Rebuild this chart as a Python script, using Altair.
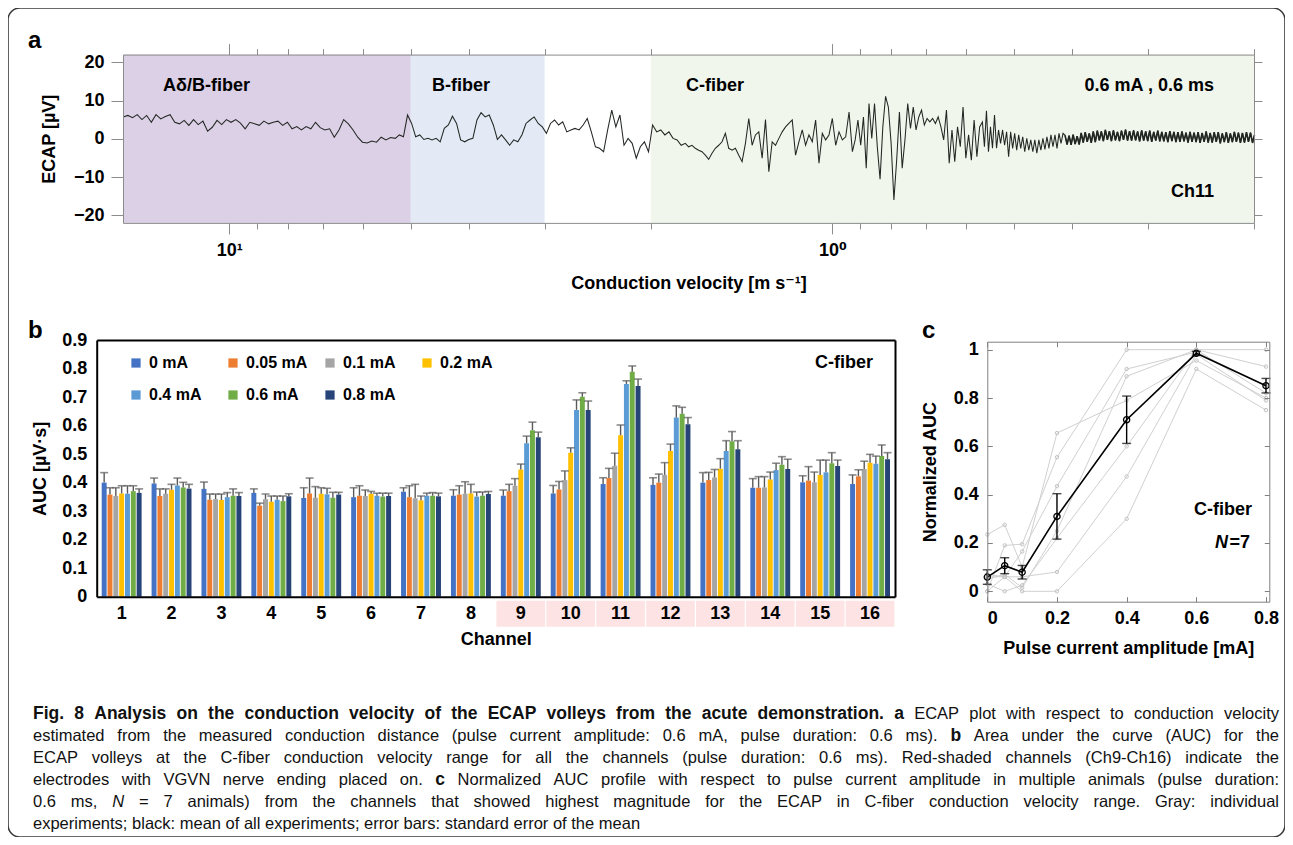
import altair as alt
import numpy as np
import pandas as pd

FONT = "Liberation Sans, DejaVu Sans, Arial, sans-serif"
W, H = 1277, 829
AXG = "#8c8c8c"
CG = "#808080"

# ---------------- Panel a: ECAP trace (Ch11, 0.6 mA, 0.6 ms) ----------------
# conduction velocity [m/s] at the edges of the read segments
trace_edges_v = [14.99, 5.305, 1.7535, 0.9265, 0.5640, 0.1996]
trace_seg1 = [5.7, 6.1, 5.5, 6.3, 5.0, 6.1, 4.3, 6.3, 5.2, 5.8, 6.3, 4.3, 3.9, 4.8, 3.5, 5.0, 3.7, 4.6,
              2.0, 3.0, 4.8, 3.7, 5.0, 4.3, 5.0, 4.1, 2.6, 4.3, 3.9, 3.5, 4.6, 3.9, 4.3, 4.6, 3.5, 4.3,
              2.6, 3.2, 2.3, 3.2, 2.6, 4.3, 2.9, 2.3, 2.6, 0.4, 2.3, 5.0, 3.9, 2.3, 0.4, -0.9, -1.1,
              -0.6, -0.9, 0.4, -0.3, 0.3]
trace_seg2 = [0.1, 1.0, 0.5, 6.2, 4.0, 0.5, 1.0, -0.2, 0.1, -0.3, 0.1, -0.8, 2.7, 3.6, 5.9, 4.0, -0.3,
              -0.8, -0.2, 0.1, 4.9, 6.8, 5.7, 6.2, 3.6, -0.2, 1.0, -0.3, -1.7, -0.3, -0.8, 1.0, 4.0,
              4.9, 5.7, 4.0, 3.1, 1.4, 4.0, 4.9, 3.6, 4.4, 1.8, 2.3, 2.7, 2.3, 3.6, 5.3, 1.8, -2.1,
              -2.5, -3.4, 2.3, 7.5, 3.1, 6.2, -1.7, 0.1, -1.2, -5.1, -2.1, -0.8, -3.4, 3.6, 1.8, 2.3,
              1.0, 1.8, 0.1, -0.3, -1.7]
trace_seg3a = [-1.2, -2.1, -1.7, -2.5, -3.0, -3.4, -4.3, -5.4, -3.8, -2.5,
               -1.7, -0.8, 1.4, -2.5, -3.0, -2.5, -4.3, -6.0, -1.2, 5.3,
               -1.7, 1.0, 1.8, -5.1, 5.0, -8.6, -0.8, -1.7, 0.1, 1.8,
               3.1, 4.0, 4.9, -4.3, -0.8, 2.3, -1.7, 1.0, -0.8, 4.9,
               -6.4, 1.4, -0.3, 1.0, 5.3, -1.7, 1.8, -0.3, 0.5, 7.0]
trace_seg3b = [-3.4, -0.3, 4.9, -1.7, 5.7, -7.7, 9.2, 0.1, 9.2, -2.1,
               -10.6, 3.1, 11.1, 8.3, -1.2, -16.0, -5.6, 7.0, -7.7, -0.3,
               9.2, 2.7, 8.3, 2.3, 5.7, 7.5, 3.6, 5.3, 4.4, 5.3,
               4.0, 5.7, 3.1, -0.3, 7.5, -6.4, 2.3, -6.0, 3.1, -2.1,
               8.3, -5.1, 1.0, -5.6, 4.9, -4.7, 3.1]
trace_seg4 = [4.4, -2.1, 7.3, -3.4, 3.1, -2.5, 6.2, -2.5, 2.3, -1.2, 2.3, -1.7, 1.8, -4.7, 1.8, -2.5,
              1.4, -3.0, 1.0, -2.5, 0.5, -3.4, 0.1, -3.0, -0.3, -3.4, -0.3, -3.8, -0.3, -3.0, 0.1,
              -2.8, 0.5, -2.5, 1.0, -2.1, 1.0, -2.5, 1.4, -1.2, 1.4,
              0.9, -1.5, 0.8, -1.6, 1.1, -1.4, 0.7, -1.5,
              1.5, -1.0, 1.7, -0.8, 1.4, -1.1, 1.9, -0.9,
              2.1, -0.4, 1.9, -0.6, 2.3, -0.3, 2.0, -0.6,
              2.2, -0.4, 1.8, -0.6, 2.1, -0.3, 2.4, -0.5,
              2.0, -0.5, 2.2, -0.4, 1.9, -0.7, 2.2, -0.5,
              1.9, -0.6, 2.1, -0.8, 1.8, -0.5, 2.1, -0.7,
              1.8, -0.7, 1.7, -0.9, 2.0, -0.6, 1.8, -0.9,
              1.7, -0.8, 1.9, -0.7, 1.6, -1.0, 1.8, -0.8,
              1.6, -0.9, 1.7, -1.1, 1.5, -0.8, 1.9, -1.0,
              1.5, -1.0, 1.7, -0.8, 1.7, -1.2, 1.4, -0.9,
              1.7, -1.1, 1.4, -0.9, 1.8, -0.8, 1.6, -1.1,
              1.5, -1.0, 1.7, -0.8, 1.6, -1.1, 1.0]
n_band = 95  # trailing samples forming the dense noise band

segments = [trace_seg1, trace_seg2, trace_seg3a, trace_seg3b, trace_seg4]
vel, ecap = [], []
for i, seg in enumerate(segments):
    last = i == len(segments) - 1
    vel.extend(np.geomspace(trace_edges_v[i], trace_edges_v[i + 1], len(seg), endpoint=last))
    ecap.extend(seg)
trace_df = pd.DataFrame({"v": vel, "ecap": ecap})
band_df = trace_df.iloc[-n_band:]

fiber_names = ["Aδ/B-fiber", "B-fiber", "C-fiber"]
fiber_fast = [14.99, 5.0, 2.0]
fiber_slow = [5.0, 3.0, 0.1996]
fiber_fill = ["#dcd0e6", "#e3e9f5", "#f0f6ec"]
fiber_df = pd.DataFrame({"name": fiber_names, "fast": fiber_fast, "slow": fiber_slow})

# ---------------- Panel b: AUC per channel ----------------
channels = [str(i) for i in range(1, 17)]
amps = ["0 mA", "0.05 mA", "0.1 mA", "0.2 mA", "0.4 mA", "0.6 mA", "0.8 mA"]
amp_colors = ["#4472c4", "#ed7d31", "#a5a5a5", "#ffc000", "#5b9bd5", "#70ad47", "#264478"]
auc_0 = [0.400, 0.397, 0.378, 0.364, 0.346, 0.349, 0.368, 0.354, 0.354, 0.362, 0.395, 0.392, 0.400, 0.382, 0.401, 0.395]
auc_005 = [0.358, 0.353, 0.340, 0.319, 0.362, 0.354, 0.349, 0.358, 0.370, 0.376, 0.416, 0.400, 0.409, 0.382, 0.407, 0.422]
auc_01 = [0.353, 0.361, 0.342, 0.342, 0.347, 0.353, 0.345, 0.361, 0.389, 0.409, 0.459, 0.427, 0.418, 0.383, 0.401, 0.448]
auc_02 = [0.362, 0.375, 0.339, 0.333, 0.361, 0.361, 0.338, 0.362, 0.446, 0.505, 0.566, 0.511, 0.449, 0.411, 0.427, 0.470]
auc_04 = [0.361, 0.390, 0.349, 0.340, 0.359, 0.354, 0.354, 0.351, 0.538, 0.655, 0.746, 0.628, 0.511, 0.444, 0.436, 0.466]
auc_06 = [0.370, 0.383, 0.354, 0.335, 0.347, 0.351, 0.354, 0.354, 0.584, 0.701, 0.789, 0.641, 0.545, 0.463, 0.468, 0.493]
auc_08 = [0.364, 0.379, 0.353, 0.352, 0.358, 0.353, 0.352, 0.360, 0.559, 0.655, 0.739, 0.605, 0.517, 0.448, 0.458, 0.482]
sem_0 = [0.035, 0.019, 0.024, 0.014, 0.036, 0.033, 0.014, 0.021, 0.020, 0.028, 0.022, 0.025, 0.035, 0.032, 0.023, 0.032]
sem_005 = [0.024, 0.025, 0.020, 0.009, 0.054, 0.035, 0.040, 0.031, 0.024, 0.028, 0.034, 0.030, 0.027, 0.039, 0.049, 0.023]
sem_01 = [0.029, 0.017, 0.018, 0.018, 0.039, 0.021, 0.049, 0.042, 0.025, 0.032, 0.044, 0.043, 0.028, 0.038, 0.036, 0.027]
sem_02 = [0.027, 0.019, 0.021, 0.020, 0.021, 0.008, 0.015, 0.032, 0.019, 0.017, 0.036, 0.024, 0.035, 0.026, 0.052, 0.029]
sem_04 = [0.028, 0.026, 0.016, 0.013, 0.021, 0.009, 0.009, 0.016, 0.025, 0.035, 0.011, 0.041, 0.036, 0.024, 0.043, 0.027]
sem_06 = [0.019, 0.018, 0.024, 0.018, 0.019, 0.012, 0.011, 0.013, 0.028, 0.014, 0.020, 0.023, 0.034, 0.028, 0.037, 0.039]
sem_08 = [0.014, 0.015, 0.012, 0.009, 0.008, 0.010, 0.011, 0.009, 0.018, 0.031, 0.024, 0.023, 0.030, 0.034, 0.021, 0.023]
red_channels = ["9", "10", "11", "12", "13", "14", "15", "16"]

auc_all = [auc_0, auc_005, auc_01, auc_02, auc_04, auc_06, auc_08]
sem_all = [sem_0, sem_005, sem_01, sem_02, sem_04, sem_06, sem_08]
rows = []
for a, av, sv in zip(amps, auc_all, sem_all):
    for c, v, s in zip(channels, av, sv):
        rows.append({"channel": c, "amp": a, "auc": v, "top": v + s})
bar_df = pd.DataFrame(rows)
red_df = pd.DataFrame({"channel": red_channels})

# ---------------- Panel c: normalized AUC ----------------
amp_c = [0, 0.05, 0.1, 0.2, 0.4, 0.6, 0.8]
animal_1 = [0.235, 0.275, 0.10, 0.655, 0.79, 0.955, 0.80]
animal_2 = [0.0, 0.19, 0.195, 0.555, 1.0, 1.0, 0.93]
animal_3 = [0.06, 0.06, 0.165, 0.435, 0.92, 0.99, 0.85]
animal_4 = [0.05, 0.07, 0.015, 0.25, 0.89, 1.0, 1.0]
animal_5 = [0.07, 0.06, 0.06, 0.08, 0.475, 0.98, 0.79]
animal_6 = [0.03, 0.0, 0.025, 0.22, 0.60, 1.0, 0.82]
animal_7 = [0.0, 0.06, 0.0, 0.0, 0.30, 0.92, 0.75]
mean_c = [0.059, 0.106, 0.079, 0.31, 0.71, 0.985, 0.851]
sem_c = [0.030, 0.033, 0.028, 0.094, 0.098, 0.008, 0.030]

animals = [animal_1, animal_2, animal_3, animal_4, animal_5, animal_6, animal_7]
ind_df = pd.DataFrame([{"animal": f"A{k+1}", "amp": x, "n": y}
                       for k, an in enumerate(animals) for x, y in zip(amp_c, an)])
mean_df = pd.DataFrame({"amp": amp_c, "m": mean_c, "lo": np.array(mean_c) - np.array(sem_c),
                        "hi": np.array(mean_c) + np.array(sem_c)})

# ---------------- caption text ----------------
caption_lines = [
    [("Fig. 8 Analysis on the conduction velocity of the ECAP volleys from the acute demonstration. a", "b"),
     ("ECAP plot with respect to conduction velocity", "r")],
    [("estimated from the measured conduction distance (pulse current amplitude: 0.6 mA, pulse duration: 0.6 ms).", "r"),
     ("b", "b"), ("Area under the curve (AUC) for the", "r")],
    [("ECAP volleys at the C-fiber conduction velocity range for all the channels (pulse duration: 0.6 ms). Red-shaded channels (Ch9-Ch16) indicate the", "r")],
    [("electrodes with VGVN nerve ending placed on.", "r"), ("c", "b"),
     ("Normalized AUC profile with respect to pulse current amplitude in multiple animals (pulse duration:", "r")],
    [("0.6 ms,", "r"), ("N", "i"),
     ("= 7 animals) from the channels that showed highest magnitude for the ECAP in C-fiber conduction velocity range. Gray: individual", "r")],
    [("experiments; black: mean of all experiments; error bars: standard error of the mean", "r")],
]
caption_justify = [True, True, True, True, True, False]

# Liberation Sans (Arial-metric) advance widths, per 1000 em, used to justify caption lines
_REG = dict(zip(" !\"#$%&'()*+,-./:;<=>?[]", [278, 278, 355, 556, 556, 889, 667, 191, 333, 333, 389, 584, 278, 333, 278, 278, 278, 278, 584, 584, 584, 556, 278, 278]))
_REG.update({d: 556 for d in "0123456789"})
_REG.update(dict(zip("ABCDEFGHIJKLMNOPQRSTUVWXYZ", [667, 667, 722, 722, 667, 611, 778, 722, 278, 500, 667, 556, 833, 722, 778, 667, 778, 722, 667, 611, 722, 667, 944, 667, 667, 611])))
_REG.update(dict(zip("abcdefghijklmnopqrstuvwxyz", [556, 556, 500, 556, 556, 278, 556, 556, 222, 222, 500, 222, 833, 556, 556, 556, 556, 333, 500, 278, 556, 500, 722, 500, 500, 500])))
_BOLD = dict(zip(" !\"#$%&'()*+,-./:;<=>?[]", [278, 333, 474, 556, 556, 889, 722, 238, 333, 333, 389, 584, 278, 333, 278, 278, 333, 333, 584, 584, 584, 611, 333, 333]))
_BOLD.update({d: 556 for d in "0123456789"})
_BOLD.update(dict(zip("ABCDEFGHIJKLMNOPQRSTUVWXYZ", [722, 722, 722, 722, 667, 611, 778, 722, 278, 556, 722, 611, 833, 722, 778, 667, 778, 722, 667, 611, 722, 667, 944, 667, 667, 611])))
_BOLD.update(dict(zip("abcdefghijklmnopqrstuvwxyz", [556, 611, 556, 611, 556, 333, 611, 611, 278, 278, 556, 278, 889, 611, 611, 611, 611, 389, 556, 333, 611, 556, 778, 556, 556, 500])))

CAP_SIZE = {"r": 16.5, "i": 16.5, "b": 17.5}
CAP_L, CAP_R, CAP_Y0, CAP_DY = 25, 1271, 706, 21.9


def word_w(word, st):
    tab = _BOLD if st == "b" else _REG
    return sum(tab.get(ch, 556) for ch in word) * CAP_SIZE[st] / 1000.0


cap_rows = []
for li, (runs, just) in enumerate(zip(caption_lines, caption_justify)):
    toks = [(w, st) for txt, st in runs for w in txt.split(" ")]
    widths = [word_w(w, st) for w, st in toks]
    gap = (CAP_R - CAP_L - sum(widths)) / (len(toks) - 1) if just else _REG[" "] * CAP_SIZE["r"] / 1000.0
    x = CAP_L
    for (w, st), ww in zip(toks, widths):
        cap_rows.append({"word": w, "x": x, "y": CAP_Y0 + li * CAP_DY, "st": st})
        x += ww + gap
cap_df = pd.DataFrame(cap_rows)


def text_layer(s, x, y, size, weight="bold", style="normal", align="left", baseline="middle"):
    return alt.Chart(alt.Data(values=[{"k": 0}])).mark_text(
        text=s, font=FONT, fontSize=size, fontWeight=weight, fontStyle=style,
        align=align, baseline=baseline, color="black"
    ).encode(x=alt.value(x), y=alt.value(y))


# ---------- panel a ----------
xa = alt.Scale(type="log", domain=[0.2, 15], range=[1246, 115], nice=False)
ya = alt.Scale(domain=[-22, 22], range=[214.9, 46.6], nice=False, zero=False)
tick_v = [10, 9, 8, 7, 6, 5, 4, 3, 2, 1, 0.9, 0.8, 0.7, 0.6, 0.5, 0.4, 0.3, 0.2]
major = "datum.value == 10 || datum.value == 1"
tsize_a = {"condition": {"test": major, "value": 11}, "value": 6}
com_a = dict(tickColor=AXG, domainColor=AXG, tickWidth=1, domainWidth=1, zindex=1, grid=False)
ax_a_bottom = alt.Axis(orient="bottom", offset=214.9 - H, values=tick_v, tickSize=tsize_a,
                       labelExpr="datum.value == 10 ? '10¹' : (datum.value == 1 ? '10⁰' : '')",
                       labelFontSize=18, labelPadding=8, labelOverlap=False, labelFlush=False,
                       title="Conduction velocity [m s⁻¹]", titleFontSize=18, titlePadding=15, **com_a)
ax_a_top = alt.Axis(orient="top", offset=-46.6, values=tick_v, tickSize=tsize_a, labels=False,
                    title=None, **com_a)
ax_a_left = alt.Axis(orient="left", offset=-115, values=[-20, -10, 0, 10, 20], tickSize=12,
                     labelPadding=7, labelFontSize=18, title="ECAP [µV]", titleFontSize=18,
                     titlePadding=15, **com_a)
ax_a_right = alt.Axis(orient="right", offset=1246 - W, values=[-20, -10, 0, 10, 20], tickSize=8,
                      labels=False, title=None, **com_a)

regions = alt.Chart(fiber_df).mark_rect().encode(
    x=alt.X("fast:Q", scale=xa, axis=ax_a_bottom), x2="slow:Q",
    y=alt.YDatum(22, type="quantitative", scale=ya, axis=ax_a_left), y2=alt.Y2Datum(-22),
    color=alt.Color("name:N", scale=alt.Scale(domain=fiber_names, range=fiber_fill), legend=None),
)
trace = alt.Chart(trace_df).mark_line(color="#232723", strokeWidth=1.05).encode(
    x=alt.X("v:Q", scale=xa, axis=ax_a_top),
    y=alt.Y("ecap:Q", scale=ya, axis=ax_a_right),
)
band = alt.Chart(band_df).mark_line(color="#232723", strokeWidth=1.6).encode(
    x=alt.X("v:Q", scale=xa, axis=None),
    y=alt.Y("ecap:Q", scale=ya, axis=None),
)
panel_a = alt.layer(regions, trace, band).resolve_axis(x="independent", y="independent")

# ---------- panel b ----------
xb = alt.Scale(domain=channels, range=[88.7, 887], paddingInner=0.2, paddingOuter=0.1)
yb = alt.Scale(domain=[0, 0.9], range=[588.7, 332], nice=False, zero=False)
com_b = dict(domainColor="black", domainWidth=2, ticks=False, zindex=1, grid=False)
ax_b_left = alt.Axis(orient="left", offset=-88.7, values=[0, 0.1, 0.2, 0.3, 0.4, 0.5, 0.6, 0.7, 0.8, 0.9],
                     format="~g", labelFontSize=18, labelPadding=10, title="AUC [µV·s]", titleFontSize=18,
                     titlePadding=12, **com_b)
ax_b_bottom = alt.Axis(orient="bottom", offset=588.7 - H, labelAngle=0, labelFontSize=18, labelPadding=8,
                       title="Channel", titleFontSize=18, titlePadding=8, **com_b)
ax_b_top = alt.Axis(orient="top", offset=-332, labels=False, title=None, **com_b)
ax_b_right = alt.Axis(orient="right", offset=887 - W, labels=False, title=None, **com_b)
xoff = alt.Scale(domain=amps, paddingInner=0.15, paddingOuter=0)
legend_b = alt.Legend(orient="none", legendX=120, legendY=347, direction="horizontal", columns=4,
                      title=None, symbolType="square", symbolSize=85, symbolStrokeWidth=0,
                      labelFont=FONT, labelFontSize=16, labelFontWeight="bold", labelColor="black",
                      labelOffset=5, columnPadding=14, rowPadding=16, gridAlign="all", padding=0)

pink = alt.Chart(red_df).mark_bar(color="#fde3e3", width=alt.RelativeBandSize(1.22)).encode(
    x=alt.X("channel:N", scale=xb, sort=channels, axis=None),
    y=alt.YDatum(-0.014, type="quantitative", scale=yb, axis=None), y2=alt.Y2Datum(-0.105),
)
bars = alt.Chart(bar_df).mark_bar().encode(
    x=alt.X("channel:N", scale=xb, sort=channels, axis=ax_b_bottom),
    xOffset=alt.XOffset("amp:N", scale=xoff, sort=amps),
    y=alt.Y("auc:Q", scale=yb, axis=ax_b_left),
    color=alt.Color("amp:N", scale=alt.Scale(domain=amps, range=amp_colors), sort=amps, legend=legend_b),
)
err = alt.Chart(bar_df).mark_rule(color="#5a5a5a", strokeWidth=1.4).encode(
    x=alt.X("channel:N", scale=xb, sort=channels, axis=ax_b_top),
    xOffset=alt.XOffset("amp:N", scale=xoff, sort=amps),
    y=alt.Y("auc:Q", scale=yb, axis=ax_b_right), y2="top:Q",
)
caps = alt.Chart(bar_df).mark_tick(orient="horizontal", size=8, thickness=1.6, color="#5a5a5a").encode(
    x=alt.X("channel:N", scale=xb, sort=channels, axis=None),
    xOffset=alt.XOffset("amp:N", scale=xoff, sort=amps),
    y=alt.Y("top:Q", scale=yb, axis=None),
)
panel_b = alt.layer(pink, bars, err, caps).resolve_axis(x="independent", y="independent")

# ---------- panel c ----------
xc = alt.Scale(domain=[0, 0.8095], range=[979.3, 1261.3], nice=False, zero=False)
yc = alt.Scale(domain=[-0.043, 1.033], range=[593.7, 333.7], nice=False, zero=False)
yv = [0, 0.2, 0.4, 0.6, 0.8, 1]
xv = [0, 0.2, 0.4, 0.6, 0.8]
com_c = dict(tickColor=CG, domainColor=CG, grid=False, zindex=1)
ax_c_left = alt.Axis(orient="left", offset=-979.3, values=yv, format="~g", ticks=False, labelPadding=9,
                     labelFontSize=18, title="Normalized AUC", titleFontSize=18, titlePadding=14, **com_c)
ax_c_bottom = alt.Axis(orient="bottom", offset=593.7 - H, values=xv, format="~g", ticks=False,
                       labelPadding=8, labelFontSize=18, title="Pulse current amplitude [mA]",
                       titleFontSize=18, titlePadding=12, **com_c)
ax_c_left_in = alt.Axis(orient="right", offset=979.3 - W, values=yv, tickSize=5, labels=False,
                        domain=False, title=None, **com_c)
ax_c_bottom_in = alt.Axis(orient="top", offset=-593.7, values=xv, tickSize=5, labels=False,
                          domain=False, title=None, **com_c)
ax_c_right = alt.Axis(orient="left", offset=-1261.3, values=yv, tickSize=5, labels=False,
                      title=None, **com_c)
ax_c_top = alt.Axis(orient="bottom", offset=333.7 - H, values=xv, tickSize=5, labels=False,
                    title=None, **com_c)

ind = alt.Chart(ind_df).mark_line(
    color="#d0d0d0", strokeWidth=1,
    point=alt.OverlayMarkDef(filled=False, color="#c4c4c4", size=12, strokeWidth=1),
).encode(
    x=alt.X("amp:Q", scale=xc, axis=ax_c_bottom),
    y=alt.Y("n:Q", scale=yc, axis=ax_c_left),
    detail="animal:N",
)
mean_line = alt.Chart(mean_df).mark_line(
    color="black", strokeWidth=1.6,
    point=alt.OverlayMarkDef(filled=False, color="black", size=38, strokeWidth=1.3),
).encode(
    x=alt.X("amp:Q", scale=xc, axis=ax_c_bottom_in),
    y=alt.Y("m:Q", scale=yc, axis=ax_c_left_in),
)
mean_err = alt.Chart(mean_df).mark_rule(color="black", strokeWidth=1.4).encode(
    x=alt.X("amp:Q", scale=xc, axis=ax_c_top),
    y=alt.Y("lo:Q", scale=yc, axis=ax_c_right), y2="hi:Q",
)
cap_lo = alt.Chart(mean_df).mark_tick(orient="horizontal", size=9, thickness=1.4, color="black").encode(
    x=alt.X("amp:Q", scale=xc, axis=None), y=alt.Y("lo:Q", scale=yc, axis=None))
cap_hi = alt.Chart(mean_df).mark_tick(orient="horizontal", size=9, thickness=1.4, color="black").encode(
    x=alt.X("amp:Q", scale=xc, axis=None), y=alt.Y("hi:Q", scale=yc, axis=None))
panel_c = alt.layer(ind, mean_err, cap_lo, cap_hi, mean_line).resolve_axis(x="independent", y="independent")

# ---------- annotations ----------
ann = [
    text_layer("a", 20, 40, 24, baseline="alphabetic"),
    text_layer("b", 20, 330, 24, baseline="alphabetic"),
    text_layer("c", 914, 330, 24, baseline="alphabetic"),
    text_layer("Aδ/B-fiber", 155, 78, 18),
    text_layer("B-fiber", 424, 78, 18),
    text_layer("C-fiber", 678, 78, 18),
    text_layer("0.6 mA , 0.6 ms", 1206, 78, 18, align="right"),
    text_layer("Ch11", 1206, 184, 18, align="right"),
    text_layer("C-fiber", 865, 355, 18, align="right"),
    text_layer("C-fiber", 1244, 502, 18, align="right"),
    text_layer("=7", 1242, 535, 18, align="right"),
    text_layer("N", 1220, 535, 18, style="italic", align="right"),
]

cap_layers = []
for st, weight, style in [("r", "normal", "normal"), ("b", "bold", "normal"), ("i", "normal", "italic")]:
    cap_layers.append(
        alt.Chart(cap_df[cap_df["st"] == st]).mark_text(
            font=FONT, fontSize=CAP_SIZE[st], fontWeight=weight, fontStyle=style,
            align="left", baseline="middle", color="#111111"
        ).encode(
            x=alt.X("x:Q", scale=None, axis=None),
            y=alt.Y("y:Q", scale=None, axis=None),
            text="word:N",
        )
    )

chart = alt.layer(panel_a, panel_b, panel_c, *ann, *cap_layers).resolve_scale(
    x="independent", y="independent", color="independent"
).resolve_axis(x="independent", y="independent").properties(
    width=W, height=H, padding=0, autosize=alt.AutoSizeParams(type="none")
).configure_view(
    stroke="#3a3a3a", strokeWidth=1.6, cornerRadius=12
).configure_axis(
    labelFont=FONT, titleFont=FONT, labelFontWeight="bold", titleFontWeight="bold",
    labelColor="black", titleColor="black"
)

chart.save("out.html", embed_options={"renderer": "svg", "actions": False})
